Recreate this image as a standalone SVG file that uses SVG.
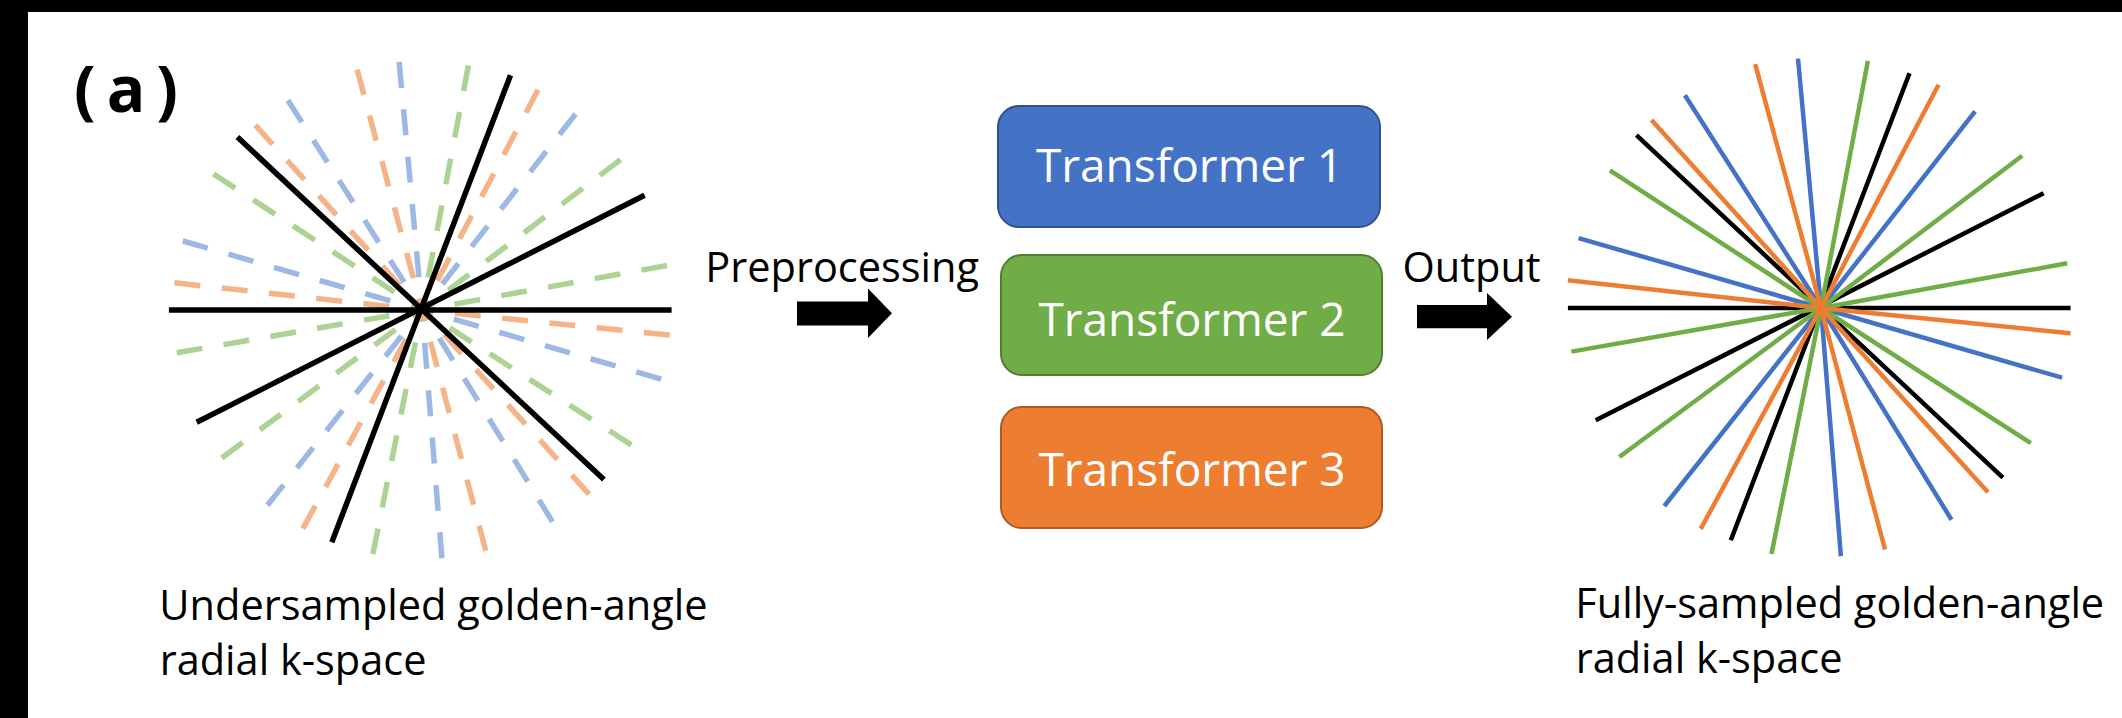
<svg xmlns="http://www.w3.org/2000/svg" xmlns:xlink="http://www.w3.org/1999/xlink" width="2122" height="718" viewBox="0 0 2122 718">
<style>
.txt{font-family:"Open Sans","Liberation Sans",sans-serif;fill:#000;}
.cap{font-size:41.5px;}
.bold{font-weight:bold;font-size:64px;}
.tt{font-family:"Open Sans","Liberation Sans",sans-serif;font-size:46px;fill:#fff;text-anchor:middle;}
.sp{fill:none;stroke-linecap:butt;}
.full{stroke-width:4.5;}
.dash{stroke-width:5.5;stroke-dasharray:26 21.5;stroke-dashoffset:14.5;}
.blk{stroke:#000;}
.blue{stroke:#4472C4;}
.orange{stroke:#ED7D31;}
.green{stroke:#70AD47;}
.lblue{stroke:#9DB8E4;}
.lorange{stroke:#F4B487;}
.lgreen{stroke:#ACD393;}
.arrow{fill:#000;}
</style>
<defs>
<path id="sp-blue" d="M1821 308L1578.6 238.1M1821 308L2062.1 377.7M1821 308L1684.9 95.2M1821 308L1951.5 519.7M1821 308L1798 58.6M1821 308L1840.9 556.3M1821 308L1975.1 111.3M1821 308L1664.3 506"/>
<path id="sp-orange" d="M1821 308L1567.9 280.2M1821 308L2070.6 333.3M1821 308L1651.5 120M1821 308L1988 492.2M1821 308L1755.2 64.1M1821 308L1885 549.5M1821 308L1938.6 84.7M1821 308L1700.7 528.8"/>
<path id="sp-green" d="M1821 308L1571.3 351.6M1821 308L2067.2 263.3M1821 308L1609.9 170.3M1821 308L2030.8 443.2M1821 308L1619.3 457M1821 308L2022.2 155.7M1821 308L1771.5 554M1821 308L1867.9 60.9"/>
<path id="sp-black" d="M1567.9 308L2070.6 308M1636.4 135.1L2002.9 477.6M1595.7 420.3L2043.6 193.2M1730.8 540.3L1909.5 73.3"/>
</defs>

<g id="background">
<rect x="0" y="0" width="2122" height="718" fill="#000"/>
<rect x="28" y="12" width="2094" height="706" fill="#fff"/>
</g>

<g id="label-a">
<text class="txt bold" x="74" y="112" textLength="104">(a)</text>
</g>

<g id="kspace-undersampled">
<g transform="translate(-1399,2)">
<use xlink:href="#sp-blue" class="sp dash lblue"/>
<use xlink:href="#sp-green" class="sp dash lgreen"/>
<use xlink:href="#sp-orange" class="sp dash lorange"/>
<use xlink:href="#sp-black" class="sp blk" stroke-width="5.5"/>
</g>
<text class="txt cap" x="159.3" y="620">Undersampled golden-angle</text>
<text class="txt cap" x="159.7" y="675">radial k-space</text>
</g>

<g id="kspace-full">
<use xlink:href="#sp-black" class="sp full blk"/>
<use xlink:href="#sp-blue" class="sp full blue"/>
<use xlink:href="#sp-green" class="sp full green"/>
<use xlink:href="#sp-orange" class="sp full orange"/>
<text class="txt cap" x="1575.3" y="618">Fully-sampled golden-angle</text>
<text class="txt cap" x="1575.7" y="673">radial k-space</text>
</g>

<g id="node-transformer-1">
<rect x="998" y="106" width="382" height="121" rx="21" fill="#4472C4" stroke="#2F528F" stroke-width="2"/>
<text class="tt" x="1189.5" y="182">Transformer 1</text>
</g>
<g id="node-transformer-2">
<rect x="1001" y="255" width="381" height="120" rx="21" fill="#70AD47" stroke="#507E32" stroke-width="2"/>
<text class="tt" x="1192" y="336">Transformer 2</text>
</g>
<g id="node-transformer-3">
<rect x="1001" y="407" width="381" height="121" rx="21" fill="#ED7D31" stroke="#AE5A21" stroke-width="2"/>
<text class="tt" x="1192" y="486">Transformer 3</text>
</g>

<g id="connectors">
<polygon class="arrow" points="797,301.5 868,301.5 868,288.5 892,313.3 868,338 868,325.5 797,325.5"/>
<text class="txt cap" x="705.3" y="282">Preprocessing</text>
<polygon class="arrow" points="1417,305 1487,305 1487,293 1512,316.7 1487,340 1487,328.3 1417,328.3"/>
<text class="txt cap" x="1402.5" y="282">Output</text>
</g>
</svg>
